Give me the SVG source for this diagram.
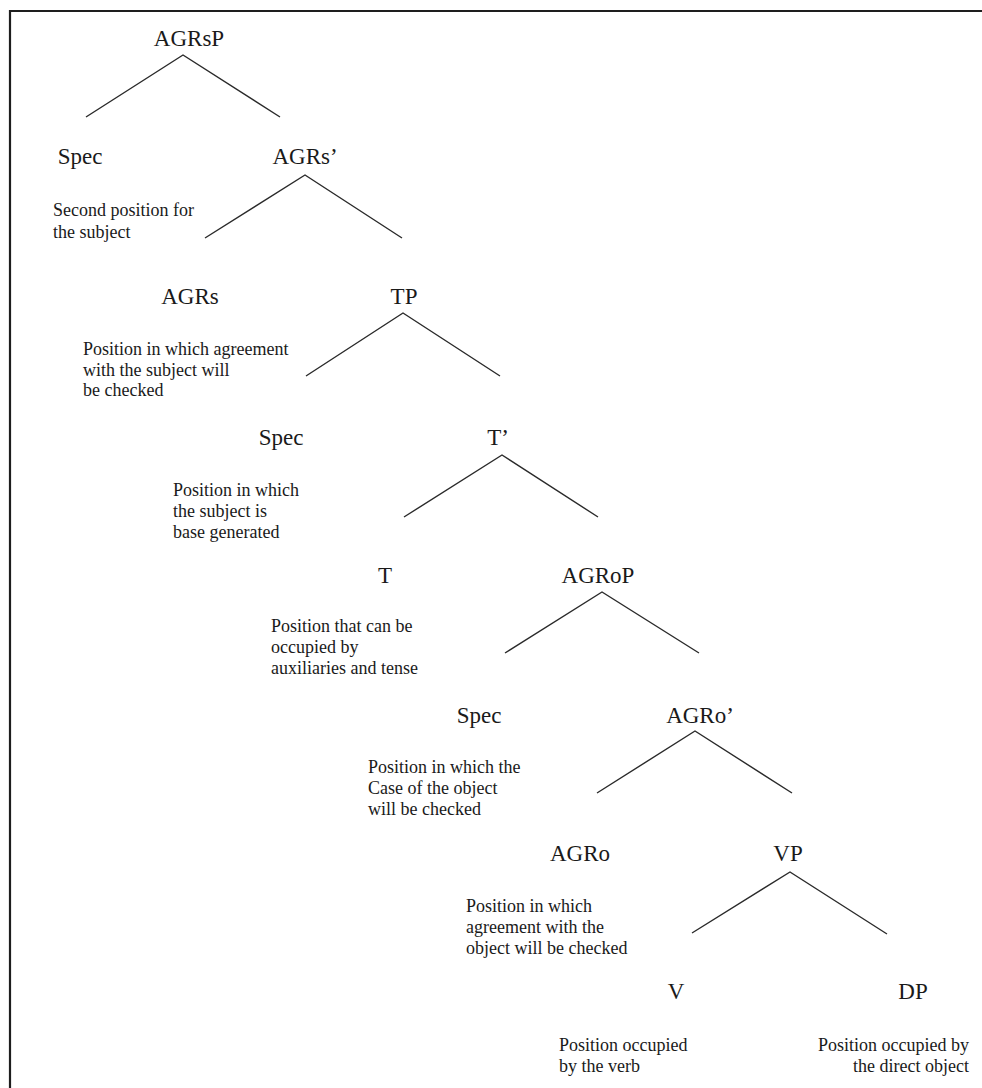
<svg xmlns="http://www.w3.org/2000/svg" width="982" height="1088" viewBox="0 0 982 1088">
<style>
.n{font-family:"Liberation Serif","Times New Roman",serif;font-size:23px;fill:#1a1a1a;text-anchor:middle}
.s{font-family:"Liberation Serif","Times New Roman",serif;font-size:18px;fill:#1a1a1a}
.e{stroke:#2a2a2a;stroke-width:1.4;fill:none}
</style>
<rect width="982" height="1088" fill="#ffffff"/>
<path d="M10 1088 V11 H982" fill="none" stroke="#1e1e1e" stroke-width="2.2"/>
<g id="connectors" class="e">
<path d="M86 117 L183 55 L280 117"/>
<path d="M205 238 L305 175 L402 238"/>
<path d="M306 376 L403 313 L500 376"/>
<path d="M404 517 L502 455 L598 517"/>
<path d="M505 653 L602 592 L699 653"/>
<path d="M597 793 L695 731 L792 793"/>
<path d="M692 933 L790 872 L887 934"/>
</g>
<g id="agrsp"><text class="n" x="189" y="46">AGRsP</text></g>
<g id="spec1"><text class="n" x="80" y="164">Spec</text>
<text class="s" x="53" y="216">Second position for</text>
<text class="s" x="53" y="238">the subject</text></g>
<g id="agrs-bar"><text class="n" x="305" y="164">AGRs’</text></g>
<g id="agrs"><text class="n" x="190" y="304">AGRs</text>
<text class="s" x="83" y="355">Position in which agreement</text>
<text class="s" x="83" y="376">with the subject will</text>
<text class="s" x="83" y="396">be checked</text></g>
<g id="tp"><text class="n" x="404" y="304">TP</text></g>
<g id="spec2"><text class="n" x="281" y="445">Spec</text>
<text class="s" x="173" y="496">Position in which</text>
<text class="s" x="173" y="517">the subject is</text>
<text class="s" x="173" y="538">base generated</text></g>
<g id="t-bar"><text class="n" x="498" y="445">T’</text></g>
<g id="t"><text class="n" x="385" y="583">T</text>
<text class="s" x="271" y="632">Position that can be</text>
<text class="s" x="271" y="653">occupied by</text>
<text class="s" x="271" y="674">auxiliaries and tense</text></g>
<g id="agrop"><text class="n" x="598" y="583">AGRoP</text></g>
<g id="spec3"><text class="n" x="479" y="723">Spec</text>
<text class="s" x="368" y="773">Position in which the</text>
<text class="s" x="368" y="794">Case of the object</text>
<text class="s" x="368" y="815">will be checked</text></g>
<g id="agro-bar"><text class="n" x="700" y="723">AGRo’</text></g>
<g id="agro"><text class="n" x="580" y="861">AGRo</text>
<text class="s" x="466" y="912">Position in which</text>
<text class="s" x="466" y="933">agreement with the</text>
<text class="s" x="466" y="954">object will be checked</text></g>
<g id="vp"><text class="n" x="788" y="861">VP</text></g>
<g id="v"><text class="n" x="676" y="999">V</text>
<text class="s" x="559" y="1051">Position occupied</text>
<text class="s" x="559" y="1072">by the verb</text></g>
<g id="dp"><text class="n" x="913" y="999">DP</text>
<text class="s" x="969" y="1051" text-anchor="end">Position occupied by</text>
<text class="s" x="969" y="1072" text-anchor="end">the direct object</text></g>
</svg>
